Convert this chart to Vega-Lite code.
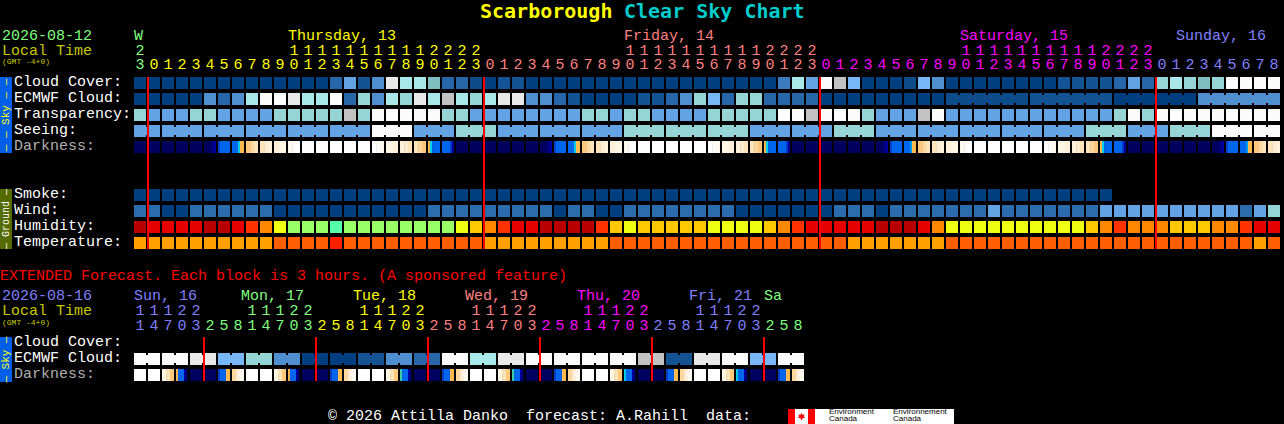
{"$schema":"https://vega.github.io/schema/vega-lite/v6.json","width":1284,"height":424,"padding":0,"autosize":{"type":"none"},"background":"#000000",
"config":{"view":{"stroke":null},"axis":{"disable":true},"text":{"font":"Liberation Mono","fontSize":15}},
"resolve":{"scale":{"x":"independent","y":"independent"}},
"encoding":{"color":{"field":"tone","type":"nominal","legend":null,"scale":{
"domain":["a","a1","b","c","d","e","f","g","h","i","j","k","l","w","v","m","hd","hr","ho","hn","ha","hy","hg","hm","t1","t2","t3","n","n2","deep","az0","az","az2","cy","tq","g0","g1","g2","g3","g4","g5","g6","g7","g8","tg","ty","ts","tm","tb","local","lw","lg","red","cyan","sky","ground","flag","ink"],
"range":["#003f7f","#0d4b8b","#135393","#2767a7","#3b7bbb","#4f8fcf","#63a3e3","#77b7f7","#7fbfbf","#95d5d5","#a8e8e8","#e9e9e9","#c2c2c2","#fbfbfb","#ffffff","#2c6cac","#b80000","#e60000","#ff3300","#ff8800","#ffc800","#eeff11","#99ff66","#55ffaa","#ffa000","#ff5f00","#ff2000","#00005f","#00006f","#0000a0","#0040d0","#0066ee","#00a0f0","#00d0e8","#40d0a0","#ffb84d","#ffc87a","#ffd89c","#ffe4ba","#ffecce","#fff1dc","#fff5e6","#fff9f0","#fffcf8","#80ff80","#ffff00","#ff8080","#ff00ff","#8080ff","#c8c800","#ffffff","#b0b0b0","#ff0000","#00cccc","#005ee8","#556b00","#ff0000","#000000"]}}},
"datasets":{
"title":[{"text":"Scarborough","tone":"ty"},{"text":"Clear Sky Chart","tone":"cyan"}],
"headTop":[{"line":"day","text":"2026-08-12","tone":"tg"},{"line":"tens","text":"Local Time","tone":"local"}],
"headExt":[{"line":"day","text":"2026-08-16","tone":"tb"},{"line":"tens","text":"Local Time","tone":"local"}],
"gmt":[{"text":"(GMT -4+0)","tone":"local"}],
"labelsTop":[{"row":"cloud","text":"Cloud Cover:","tone":"lw"},{"row":"ecmwf","text":"ECMWF Cloud:","tone":"lw"},{"row":"transparency","text":"Transparency:","tone":"lw"},{"row":"seeing","text":"Seeing:","tone":"lw"},{"row":"darkness","text":"Darkness:","tone":"lg"},{"row":"smoke","text":"Smoke:","tone":"lw"},{"row":"wind","text":"Wind:","tone":"lw"},{"row":"humidity","text":"Humidity:","tone":"lw"},{"row":"temperature","text":"Temperature:","tone":"lw"}],
"labelsExt":[{"row":"cloud","text":"Cloud Cover:","tone":"lw"},{"row":"ecmwf","text":"ECMWF Cloud:","tone":"lw"},{"row":"darkness","text":"Darkness:","tone":"lg"}],
"daysTop":[{"block":0,"text":"W","tone":"tg"},{"block":11,"text":"Thursday, 13","tone":"ty"},{"block":35,"text":"Friday, 14","tone":"ts"},{"block":59,"text":"Saturday, 15","tone":"tm"}],
"sundayTop":[{"block":74,"text":"Sunday, 16","tone":"tb"}],
"daysExt":[{"block":8,"text":"Mon, 17","tone":"tg"},{"block":16,"text":"Tue, 18","tone":"ty"},{"block":24,"text":"Wed, 19","tone":"ts"},{"block":32,"text":"Thu, 20","tone":"tm"},{"block":40,"text":"Fri, 21","tone":"tb"}],
"daysExt2":[{"block":0,"text":"Sun, 16","tone":"tb"},{"block":45,"text":"Sa","tone":"tg"}],
"digitsTop":[{"block":0,"tens":"2","ones":"3","tone":"tg"},
{"block":1,"tens":"","ones":"0","tone":"ty"},{"block":2,"tens":"","ones":"1","tone":"ty"},{"block":3,"tens":"","ones":"2","tone":"ty"},{"block":4,"tens":"","ones":"3","tone":"ty"},{"block":5,"tens":"","ones":"4","tone":"ty"},{"block":6,"tens":"","ones":"5","tone":"ty"},{"block":7,"tens":"","ones":"6","tone":"ty"},{"block":8,"tens":"","ones":"7","tone":"ty"},{"block":9,"tens":"","ones":"8","tone":"ty"},{"block":10,"tens":"","ones":"9","tone":"ty"},{"block":11,"tens":"1","ones":"0","tone":"ty"},{"block":12,"tens":"1","ones":"1","tone":"ty"},{"block":13,"tens":"1","ones":"2","tone":"ty"},{"block":14,"tens":"1","ones":"3","tone":"ty"},{"block":15,"tens":"1","ones":"4","tone":"ty"},{"block":16,"tens":"1","ones":"5","tone":"ty"},{"block":17,"tens":"1","ones":"6","tone":"ty"},{"block":18,"tens":"1","ones":"7","tone":"ty"},{"block":19,"tens":"1","ones":"8","tone":"ty"},{"block":20,"tens":"1","ones":"9","tone":"ty"},{"block":21,"tens":"2","ones":"0","tone":"ty"},{"block":22,"tens":"2","ones":"1","tone":"ty"},{"block":23,"tens":"2","ones":"2","tone":"ty"},{"block":24,"tens":"2","ones":"3","tone":"ty"},
{"block":25,"tens":"","ones":"0","tone":"ts"},{"block":26,"tens":"","ones":"1","tone":"ts"},{"block":27,"tens":"","ones":"2","tone":"ts"},{"block":28,"tens":"","ones":"3","tone":"ts"},{"block":29,"tens":"","ones":"4","tone":"ts"},{"block":30,"tens":"","ones":"5","tone":"ts"},{"block":31,"tens":"","ones":"6","tone":"ts"},{"block":32,"tens":"","ones":"7","tone":"ts"},{"block":33,"tens":"","ones":"8","tone":"ts"},{"block":34,"tens":"","ones":"9","tone":"ts"},{"block":35,"tens":"1","ones":"0","tone":"ts"},{"block":36,"tens":"1","ones":"1","tone":"ts"},{"block":37,"tens":"1","ones":"2","tone":"ts"},{"block":38,"tens":"1","ones":"3","tone":"ts"},{"block":39,"tens":"1","ones":"4","tone":"ts"},{"block":40,"tens":"1","ones":"5","tone":"ts"},{"block":41,"tens":"1","ones":"6","tone":"ts"},{"block":42,"tens":"1","ones":"7","tone":"ts"},{"block":43,"tens":"1","ones":"8","tone":"ts"},{"block":44,"tens":"1","ones":"9","tone":"ts"},{"block":45,"tens":"2","ones":"0","tone":"ts"},{"block":46,"tens":"2","ones":"1","tone":"ts"},{"block":47,"tens":"2","ones":"2","tone":"ts"},{"block":48,"tens":"2","ones":"3","tone":"ts"},
{"block":49,"tens":"","ones":"0","tone":"tm"},{"block":50,"tens":"","ones":"1","tone":"tm"},{"block":51,"tens":"","ones":"2","tone":"tm"},{"block":52,"tens":"","ones":"3","tone":"tm"},{"block":53,"tens":"","ones":"4","tone":"tm"},{"block":54,"tens":"","ones":"5","tone":"tm"},{"block":55,"tens":"","ones":"6","tone":"tm"},{"block":56,"tens":"","ones":"7","tone":"tm"},{"block":57,"tens":"","ones":"8","tone":"tm"},{"block":58,"tens":"","ones":"9","tone":"tm"},{"block":59,"tens":"1","ones":"0","tone":"tm"},{"block":60,"tens":"1","ones":"1","tone":"tm"},{"block":61,"tens":"1","ones":"2","tone":"tm"},{"block":62,"tens":"1","ones":"3","tone":"tm"},{"block":63,"tens":"1","ones":"4","tone":"tm"},{"block":64,"tens":"1","ones":"5","tone":"tm"},{"block":65,"tens":"1","ones":"6","tone":"tm"},{"block":66,"tens":"1","ones":"7","tone":"tm"},{"block":67,"tens":"1","ones":"8","tone":"tm"},{"block":68,"tens":"1","ones":"9","tone":"tm"},{"block":69,"tens":"2","ones":"0","tone":"tm"},{"block":70,"tens":"2","ones":"1","tone":"tm"},{"block":71,"tens":"2","ones":"2","tone":"tm"},{"block":72,"tens":"2","ones":"3","tone":"tm"},
{"block":73,"tens":"","ones":"0","tone":"tb"},{"block":74,"tens":"","ones":"1","tone":"tb"},{"block":75,"tens":"","ones":"2","tone":"tb"},{"block":76,"tens":"","ones":"3","tone":"tb"},{"block":77,"tens":"","ones":"4","tone":"tb"},{"block":78,"tens":"","ones":"5","tone":"tb"},{"block":79,"tens":"","ones":"6","tone":"tb"},{"block":80,"tens":"","ones":"7","tone":"tb"},{"block":81,"tens":"","ones":"8","tone":"tb"}],
"digitsExt":[{"block":0,"tens":"1","ones":"1","tone":"tb"},{"block":1,"tens":"1","ones":"4","tone":"tb"},{"block":2,"tens":"1","ones":"7","tone":"tb"},{"block":3,"tens":"2","ones":"0","tone":"tb"},{"block":4,"tens":"2","ones":"3","tone":"tb"},
{"block":5,"tens":"","ones":"2","tone":"tg"},{"block":6,"tens":"","ones":"5","tone":"tg"},{"block":7,"tens":"","ones":"8","tone":"tg"},{"block":8,"tens":"1","ones":"1","tone":"tg"},{"block":9,"tens":"1","ones":"4","tone":"tg"},{"block":10,"tens":"1","ones":"7","tone":"tg"},{"block":11,"tens":"2","ones":"0","tone":"tg"},{"block":12,"tens":"2","ones":"3","tone":"tg"},
{"block":13,"tens":"","ones":"2","tone":"ty"},{"block":14,"tens":"","ones":"5","tone":"ty"},{"block":15,"tens":"","ones":"8","tone":"ty"},{"block":16,"tens":"1","ones":"1","tone":"ty"},{"block":17,"tens":"1","ones":"4","tone":"ty"},{"block":18,"tens":"1","ones":"7","tone":"ty"},{"block":19,"tens":"2","ones":"0","tone":"ty"},{"block":20,"tens":"2","ones":"3","tone":"ty"},
{"block":21,"tens":"","ones":"2","tone":"ts"},{"block":22,"tens":"","ones":"5","tone":"ts"},{"block":23,"tens":"","ones":"8","tone":"ts"},{"block":24,"tens":"1","ones":"1","tone":"ts"},{"block":25,"tens":"1","ones":"4","tone":"ts"},{"block":26,"tens":"1","ones":"7","tone":"ts"},{"block":27,"tens":"2","ones":"0","tone":"ts"},{"block":28,"tens":"2","ones":"3","tone":"ts"},
{"block":29,"tens":"","ones":"2","tone":"tm"},{"block":30,"tens":"","ones":"5","tone":"tm"},{"block":31,"tens":"","ones":"8","tone":"tm"},{"block":32,"tens":"1","ones":"1","tone":"tm"},{"block":33,"tens":"1","ones":"4","tone":"tm"},{"block":34,"tens":"1","ones":"7","tone":"tm"},{"block":35,"tens":"2","ones":"0","tone":"tm"},{"block":36,"tens":"2","ones":"3","tone":"tm"},
{"block":37,"tens":"","ones":"2","tone":"tb"},{"block":38,"tens":"","ones":"5","tone":"tb"},{"block":39,"tens":"","ones":"8","tone":"tb"},{"block":40,"tens":"1","ones":"1","tone":"tb"},{"block":41,"tens":"1","ones":"4","tone":"tb"},{"block":42,"tens":"1","ones":"7","tone":"tb"},{"block":43,"tens":"2","ones":"0","tone":"tb"},{"block":44,"tens":"2","ones":"3","tone":"tb"},
{"block":45,"tens":"","ones":"2","tone":"tg"},{"block":46,"tens":"","ones":"5","tone":"tg"},{"block":47,"tens":"","ones":"8","tone":"tg"}],
"blocksTop":[
{"row":"cloud","block":0,"tone":"a"},{"row":"cloud","block":1,"tone":"a"},{"row":"cloud","block":2,"tone":"a"},{"row":"cloud","block":3,"tone":"a"},{"row":"cloud","block":4,"tone":"a"},{"row":"cloud","block":5,"tone":"a"},{"row":"cloud","block":6,"tone":"a"},{"row":"cloud","block":7,"tone":"a"},{"row":"cloud","block":8,"tone":"a"},{"row":"cloud","block":9,"tone":"a"},{"row":"cloud","block":10,"tone":"a"},{"row":"cloud","block":11,"tone":"a"},{"row":"cloud","block":12,"tone":"a"},{"row":"cloud","block":13,"tone":"a"},{"row":"cloud","block":14,"tone":"c"},{"row":"cloud","block":15,"tone":"f"},{"row":"cloud","block":16,"tone":"b"},{"row":"cloud","block":17,"tone":"e"},{"row":"cloud","block":18,"tone":"k"},{"row":"cloud","block":19,"tone":"j"},{"row":"cloud","block":20,"tone":"j"},{"row":"cloud","block":21,"tone":"h"},{"row":"cloud","block":22,"tone":"c"},{"row":"cloud","block":23,"tone":"c"},{"row":"cloud","block":24,"tone":"a1"},{"row":"cloud","block":25,"tone":"a"},{"row":"cloud","block":26,"tone":"b"},{"row":"cloud","block":27,"tone":"b"},{"row":"cloud","block":28,"tone":"a"},{"row":"cloud","block":29,"tone":"a"},{"row":"cloud","block":30,"tone":"a"},{"row":"cloud","block":31,"tone":"a"},{"row":"cloud","block":32,"tone":"a"},{"row":"cloud","block":33,"tone":"a"},{"row":"cloud","block":34,"tone":"a"},{"row":"cloud","block":35,"tone":"a"},{"row":"cloud","block":36,"tone":"a"},{"row":"cloud","block":37,"tone":"a"},{"row":"cloud","block":38,"tone":"a"},{"row":"cloud","block":39,"tone":"a"},{"row":"cloud","block":40,"tone":"a"},{"row":"cloud","block":41,"tone":"a"},{"row":"cloud","block":42,"tone":"a"},{"row":"cloud","block":43,"tone":"a"},{"row":"cloud","block":44,"tone":"a"},{"row":"cloud","block":45,"tone":"a"},{"row":"cloud","block":46,"tone":"d"},{"row":"cloud","block":47,"tone":"j"},{"row":"cloud","block":48,"tone":"f"},{"row":"cloud","block":49,"tone":"w"},{"row":"cloud","block":50,"tone":"l"},{"row":"cloud","block":51,"tone":"g"},{"row":"cloud","block":52,"tone":"a"},{"row":"cloud","block":53,"tone":"a"},{"row":"cloud","block":54,"tone":"a"},{"row":"cloud","block":55,"tone":"a1"},{"row":"cloud","block":56,"tone":"g"},{"row":"cloud","block":57,"tone":"e"},{"row":"cloud","block":58,"tone":"a"},{"row":"cloud","block":59,"tone":"a"},{"row":"cloud","block":60,"tone":"a"},{"row":"cloud","block":61,"tone":"a"},{"row":"cloud","block":62,"tone":"a"},{"row":"cloud","block":63,"tone":"a"},{"row":"cloud","block":64,"tone":"a"},{"row":"cloud","block":65,"tone":"a"},{"row":"cloud","block":66,"tone":"b"},{"row":"cloud","block":67,"tone":"b"},{"row":"cloud","block":68,"tone":"b"},{"row":"cloud","block":69,"tone":"b"},{"row":"cloud","block":70,"tone":"c"},{"row":"cloud","block":71,"tone":"f"},{"row":"cloud","block":72,"tone":"c"},{"row":"cloud","block":73,"tone":"i"},{"row":"cloud","block":74,"tone":"j"},{"row":"cloud","block":75,"tone":"i"},{"row":"cloud","block":76,"tone":"h"},{"row":"cloud","block":77,"tone":"i"},{"row":"cloud","block":78,"tone":"w"},{"row":"cloud","block":79,"tone":"w"},{"row":"cloud","block":80,"tone":"w"},{"row":"cloud","block":81,"tone":"w"},
{"row":"ecmwf","block":0,"tone":"a"},{"row":"ecmwf","block":1,"tone":"a"},{"row":"ecmwf","block":2,"tone":"a"},{"row":"ecmwf","block":3,"tone":"a"},{"row":"ecmwf","block":4,"tone":"a"},{"row":"ecmwf","block":5,"tone":"e"},{"row":"ecmwf","block":6,"tone":"c"},{"row":"ecmwf","block":7,"tone":"e"},{"row":"ecmwf","block":8,"tone":"j"},{"row":"ecmwf","block":9,"tone":"w"},{"row":"ecmwf","block":10,"tone":"w"},{"row":"ecmwf","block":11,"tone":"k"},{"row":"ecmwf","block":12,"tone":"j"},{"row":"ecmwf","block":13,"tone":"j"},{"row":"ecmwf","block":14,"tone":"w"},{"row":"ecmwf","block":15,"tone":"c"},{"row":"ecmwf","block":16,"tone":"i"},{"row":"ecmwf","block":17,"tone":"e"},{"row":"ecmwf","block":18,"tone":"j"},{"row":"ecmwf","block":19,"tone":"i"},{"row":"ecmwf","block":20,"tone":"k"},{"row":"ecmwf","block":21,"tone":"j"},{"row":"ecmwf","block":22,"tone":"l"},{"row":"ecmwf","block":23,"tone":"j"},{"row":"ecmwf","block":24,"tone":"i"},{"row":"ecmwf","block":25,"tone":"j"},{"row":"ecmwf","block":26,"tone":"k"},{"row":"ecmwf","block":27,"tone":"k"},{"row":"ecmwf","block":28,"tone":"e"},{"row":"ecmwf","block":29,"tone":"e"},{"row":"ecmwf","block":30,"tone":"c"},{"row":"ecmwf","block":31,"tone":"b"},{"row":"ecmwf","block":32,"tone":"a"},{"row":"ecmwf","block":33,"tone":"a"},{"row":"ecmwf","block":34,"tone":"a"},{"row":"ecmwf","block":35,"tone":"a"},{"row":"ecmwf","block":36,"tone":"b"},{"row":"ecmwf","block":37,"tone":"b"},{"row":"ecmwf","block":38,"tone":"c"},{"row":"ecmwf","block":39,"tone":"e"},{"row":"ecmwf","block":40,"tone":"i"},{"row":"ecmwf","block":41,"tone":"g"},{"row":"ecmwf","block":42,"tone":"c"},{"row":"ecmwf","block":43,"tone":"i"},{"row":"ecmwf","block":44,"tone":"i"},{"row":"ecmwf","block":45,"tone":"c"},{"row":"ecmwf","block":46,"tone":"c"},{"row":"ecmwf","block":47,"tone":"c"},{"row":"ecmwf","block":48,"tone":"c"},{"row":"ecmwf","block":49,"tone":"a"},{"row":"ecmwf","block":50,"tone":"a"},{"row":"ecmwf","block":51,"tone":"a"},{"row":"ecmwf","block":52,"tone":"a"},{"row":"ecmwf","block":53,"tone":"a"},{"row":"ecmwf","block":54,"tone":"a"},{"row":"ecmwf","block":55,"tone":"a"},{"row":"ecmwf","block":56,"tone":"a"},{"row":"ecmwf","block":57,"tone":"a"},{"row":"ecmwf","block":58,"tone":"a1"},{"row":"ecmwf","block":59,"tone":"a1"},{"row":"ecmwf","block":60,"tone":"a1"},{"row":"ecmwf","block":61,"tone":"a1"},{"row":"ecmwf","block":62,"tone":"a1"},{"row":"ecmwf","block":63,"tone":"a1"},{"row":"ecmwf","block":64,"tone":"b"},{"row":"ecmwf","block":65,"tone":"b"},{"row":"ecmwf","block":66,"tone":"b"},{"row":"ecmwf","block":67,"tone":"b"},{"row":"ecmwf","block":68,"tone":"b"},{"row":"ecmwf","block":69,"tone":"b"},{"row":"ecmwf","block":70,"tone":"a"},{"row":"ecmwf","block":71,"tone":"a"},{"row":"ecmwf","block":72,"tone":"a"},{"row":"ecmwf","block":73,"tone":"a"},{"row":"ecmwf","block":74,"tone":"a"},{"row":"ecmwf","block":75,"tone":"a"},{"row":"ecmwf","block":76,"tone":"e"},{"row":"ecmwf","block":77,"tone":"e"},{"row":"ecmwf","block":78,"tone":"e"},{"row":"ecmwf","block":79,"tone":"e"},{"row":"ecmwf","block":80,"tone":"e"},{"row":"ecmwf","block":81,"tone":"e"},
{"row":"transparency","block":0,"tone":"i"},{"row":"transparency","block":1,"tone":"f"},{"row":"transparency","block":2,"tone":"f"},{"row":"transparency","block":3,"tone":"f"},{"row":"transparency","block":4,"tone":"i"},{"row":"transparency","block":5,"tone":"i"},{"row":"transparency","block":6,"tone":"f"},{"row":"transparency","block":7,"tone":"f"},{"row":"transparency","block":8,"tone":"f"},{"row":"transparency","block":9,"tone":"f"},{"row":"transparency","block":10,"tone":"i"},{"row":"transparency","block":11,"tone":"i"},{"row":"transparency","block":12,"tone":"i"},{"row":"transparency","block":13,"tone":"i"},{"row":"transparency","block":14,"tone":"i"},{"row":"transparency","block":15,"tone":"l"},{"row":"transparency","block":16,"tone":"i"},{"row":"transparency","block":17,"tone":"w"},{"row":"transparency","block":18,"tone":"w"},{"row":"transparency","block":19,"tone":"w"},{"row":"transparency","block":20,"tone":"w"},{"row":"transparency","block":21,"tone":"w"},{"row":"transparency","block":22,"tone":"i"},{"row":"transparency","block":23,"tone":"i"},{"row":"transparency","block":24,"tone":"f"},{"row":"transparency","block":25,"tone":"f"},{"row":"transparency","block":26,"tone":"f"},{"row":"transparency","block":27,"tone":"f"},{"row":"transparency","block":28,"tone":"f"},{"row":"transparency","block":29,"tone":"f"},{"row":"transparency","block":30,"tone":"f"},{"row":"transparency","block":31,"tone":"f"},{"row":"transparency","block":32,"tone":"i"},{"row":"transparency","block":33,"tone":"i"},{"row":"transparency","block":34,"tone":"f"},{"row":"transparency","block":35,"tone":"i"},{"row":"transparency","block":36,"tone":"i"},{"row":"transparency","block":37,"tone":"f"},{"row":"transparency","block":38,"tone":"f"},{"row":"transparency","block":39,"tone":"f"},{"row":"transparency","block":40,"tone":"f"},{"row":"transparency","block":41,"tone":"i"},{"row":"transparency","block":42,"tone":"i"},{"row":"transparency","block":43,"tone":"i"},{"row":"transparency","block":44,"tone":"i"},{"row":"transparency","block":45,"tone":"i"},{"row":"transparency","block":46,"tone":"w"},{"row":"transparency","block":47,"tone":"w"},{"row":"transparency","block":48,"tone":"l"},{"row":"transparency","block":49,"tone":"w"},{"row":"transparency","block":50,"tone":"w"},{"row":"transparency","block":51,"tone":"w"},{"row":"transparency","block":52,"tone":"i"},{"row":"transparency","block":53,"tone":"f"},{"row":"transparency","block":54,"tone":"f"},{"row":"transparency","block":55,"tone":"f"},{"row":"transparency","block":56,"tone":"l"},{"row":"transparency","block":57,"tone":"w"},{"row":"transparency","block":58,"tone":"f"},{"row":"transparency","block":59,"tone":"f"},{"row":"transparency","block":60,"tone":"f"},{"row":"transparency","block":61,"tone":"f"},{"row":"transparency","block":62,"tone":"f"},{"row":"transparency","block":63,"tone":"f"},{"row":"transparency","block":64,"tone":"f"},{"row":"transparency","block":65,"tone":"f"},{"row":"transparency","block":66,"tone":"f"},{"row":"transparency","block":67,"tone":"f"},{"row":"transparency","block":68,"tone":"f"},{"row":"transparency","block":69,"tone":"f"},{"row":"transparency","block":70,"tone":"i"},{"row":"transparency","block":71,"tone":"w"},{"row":"transparency","block":72,"tone":"i"},{"row":"transparency","block":73,"tone":"w"},{"row":"transparency","block":74,"tone":"w"},{"row":"transparency","block":75,"tone":"w"},{"row":"transparency","block":76,"tone":"w"},{"row":"transparency","block":77,"tone":"w"},{"row":"transparency","block":78,"tone":"w"},{"row":"transparency","block":79,"tone":"w"},{"row":"transparency","block":80,"tone":"w"},{"row":"transparency","block":81,"tone":"w"},
{"row":"seeing","block":0,"tone":"f"},{"row":"seeing","block":1,"tone":"f"},{"row":"seeing","block":2,"tone":"f"},{"row":"seeing","block":3,"tone":"f"},{"row":"seeing","block":4,"tone":"f"},{"row":"seeing","block":5,"tone":"f"},{"row":"seeing","block":6,"tone":"f"},{"row":"seeing","block":7,"tone":"f"},{"row":"seeing","block":8,"tone":"f"},{"row":"seeing","block":9,"tone":"f"},{"row":"seeing","block":10,"tone":"f"},{"row":"seeing","block":11,"tone":"f"},{"row":"seeing","block":12,"tone":"f"},{"row":"seeing","block":13,"tone":"f"},{"row":"seeing","block":14,"tone":"f"},{"row":"seeing","block":15,"tone":"f"},{"row":"seeing","block":16,"tone":"f"},{"row":"seeing","block":17,"tone":"w"},{"row":"seeing","block":18,"tone":"w"},{"row":"seeing","block":19,"tone":"w"},{"row":"seeing","block":20,"tone":"f"},{"row":"seeing","block":21,"tone":"f"},{"row":"seeing","block":22,"tone":"f"},{"row":"seeing","block":23,"tone":"i"},{"row":"seeing","block":24,"tone":"i"},{"row":"seeing","block":25,"tone":"i"},{"row":"seeing","block":26,"tone":"f"},{"row":"seeing","block":27,"tone":"f"},{"row":"seeing","block":28,"tone":"f"},{"row":"seeing","block":29,"tone":"f"},{"row":"seeing","block":30,"tone":"f"},{"row":"seeing","block":31,"tone":"f"},{"row":"seeing","block":32,"tone":"f"},{"row":"seeing","block":33,"tone":"f"},{"row":"seeing","block":34,"tone":"f"},{"row":"seeing","block":35,"tone":"i"},{"row":"seeing","block":36,"tone":"i"},{"row":"seeing","block":37,"tone":"i"},{"row":"seeing","block":38,"tone":"i"},{"row":"seeing","block":39,"tone":"i"},{"row":"seeing","block":40,"tone":"i"},{"row":"seeing","block":41,"tone":"i"},{"row":"seeing","block":42,"tone":"i"},{"row":"seeing","block":43,"tone":"i"},{"row":"seeing","block":44,"tone":"f"},{"row":"seeing","block":45,"tone":"f"},{"row":"seeing","block":46,"tone":"f"},{"row":"seeing","block":47,"tone":"f"},{"row":"seeing","block":48,"tone":"f"},{"row":"seeing","block":49,"tone":"f"},{"row":"seeing","block":50,"tone":"i"},{"row":"seeing","block":51,"tone":"i"},{"row":"seeing","block":52,"tone":"i"},{"row":"seeing","block":53,"tone":"f"},{"row":"seeing","block":54,"tone":"f"},{"row":"seeing","block":55,"tone":"f"},{"row":"seeing","block":56,"tone":"f"},{"row":"seeing","block":57,"tone":"f"},{"row":"seeing","block":58,"tone":"f"},{"row":"seeing","block":59,"tone":"f"},{"row":"seeing","block":60,"tone":"f"},{"row":"seeing","block":61,"tone":"f"},{"row":"seeing","block":62,"tone":"f"},{"row":"seeing","block":63,"tone":"f"},{"row":"seeing","block":64,"tone":"f"},{"row":"seeing","block":65,"tone":"f"},{"row":"seeing","block":66,"tone":"f"},{"row":"seeing","block":67,"tone":"f"},{"row":"seeing","block":68,"tone":"i"},{"row":"seeing","block":69,"tone":"i"},{"row":"seeing","block":70,"tone":"i"},{"row":"seeing","block":71,"tone":"f"},{"row":"seeing","block":72,"tone":"f"},{"row":"seeing","block":73,"tone":"f"},{"row":"seeing","block":74,"tone":"i"},{"row":"seeing","block":75,"tone":"i"},{"row":"seeing","block":76,"tone":"i"},{"row":"seeing","block":77,"tone":"w"},{"row":"seeing","block":78,"tone":"w"},{"row":"seeing","block":79,"tone":"w"},{"row":"seeing","block":80,"tone":"w"},{"row":"seeing","block":81,"tone":"w"},
{"row":"smoke","block":0,"tone":"a"},{"row":"smoke","block":1,"tone":"a"},{"row":"smoke","block":2,"tone":"a"},{"row":"smoke","block":3,"tone":"a"},{"row":"smoke","block":4,"tone":"a"},{"row":"smoke","block":5,"tone":"a"},{"row":"smoke","block":6,"tone":"a"},{"row":"smoke","block":7,"tone":"a"},{"row":"smoke","block":8,"tone":"a"},{"row":"smoke","block":9,"tone":"a"},{"row":"smoke","block":10,"tone":"a"},{"row":"smoke","block":11,"tone":"a"},{"row":"smoke","block":12,"tone":"a"},{"row":"smoke","block":13,"tone":"a"},{"row":"smoke","block":14,"tone":"a"},{"row":"smoke","block":15,"tone":"a"},{"row":"smoke","block":16,"tone":"a"},{"row":"smoke","block":17,"tone":"a"},{"row":"smoke","block":18,"tone":"a"},{"row":"smoke","block":19,"tone":"a"},{"row":"smoke","block":20,"tone":"a"},{"row":"smoke","block":21,"tone":"a"},{"row":"smoke","block":22,"tone":"a"},{"row":"smoke","block":23,"tone":"a"},{"row":"smoke","block":24,"tone":"a"},{"row":"smoke","block":25,"tone":"a"},{"row":"smoke","block":26,"tone":"a"},{"row":"smoke","block":27,"tone":"a"},{"row":"smoke","block":28,"tone":"a"},{"row":"smoke","block":29,"tone":"a"},{"row":"smoke","block":30,"tone":"a"},{"row":"smoke","block":31,"tone":"a"},{"row":"smoke","block":32,"tone":"a"},{"row":"smoke","block":33,"tone":"a"},{"row":"smoke","block":34,"tone":"a"},{"row":"smoke","block":35,"tone":"a"},{"row":"smoke","block":36,"tone":"a"},{"row":"smoke","block":37,"tone":"a"},{"row":"smoke","block":38,"tone":"a"},{"row":"smoke","block":39,"tone":"a"},{"row":"smoke","block":40,"tone":"a"},{"row":"smoke","block":41,"tone":"a"},{"row":"smoke","block":42,"tone":"a"},{"row":"smoke","block":43,"tone":"a"},{"row":"smoke","block":44,"tone":"a"},{"row":"smoke","block":45,"tone":"a"},{"row":"smoke","block":46,"tone":"a"},{"row":"smoke","block":47,"tone":"a"},{"row":"smoke","block":48,"tone":"a"},{"row":"smoke","block":49,"tone":"a"},{"row":"smoke","block":50,"tone":"a"},{"row":"smoke","block":51,"tone":"a"},{"row":"smoke","block":52,"tone":"a"},{"row":"smoke","block":53,"tone":"a"},{"row":"smoke","block":54,"tone":"a"},{"row":"smoke","block":55,"tone":"a"},{"row":"smoke","block":56,"tone":"a"},{"row":"smoke","block":57,"tone":"a"},{"row":"smoke","block":58,"tone":"a"},{"row":"smoke","block":59,"tone":"a"},{"row":"smoke","block":60,"tone":"a"},{"row":"smoke","block":61,"tone":"a"},{"row":"smoke","block":62,"tone":"a"},{"row":"smoke","block":63,"tone":"a"},{"row":"smoke","block":64,"tone":"a"},{"row":"smoke","block":65,"tone":"a"},{"row":"smoke","block":66,"tone":"a"},{"row":"smoke","block":67,"tone":"a"},{"row":"smoke","block":68,"tone":"a"},{"row":"smoke","block":69,"tone":"a"},
{"row":"wind","block":0,"tone":"m"},{"row":"wind","block":1,"tone":"m"},{"row":"wind","block":2,"tone":"a"},{"row":"wind","block":3,"tone":"a"},{"row":"wind","block":4,"tone":"m"},{"row":"wind","block":5,"tone":"m"},{"row":"wind","block":6,"tone":"m"},{"row":"wind","block":7,"tone":"m"},{"row":"wind","block":8,"tone":"m"},{"row":"wind","block":9,"tone":"m"},{"row":"wind","block":10,"tone":"a"},{"row":"wind","block":11,"tone":"a"},{"row":"wind","block":12,"tone":"a"},{"row":"wind","block":13,"tone":"a"},{"row":"wind","block":14,"tone":"a"},{"row":"wind","block":15,"tone":"a"},{"row":"wind","block":16,"tone":"a"},{"row":"wind","block":17,"tone":"a"},{"row":"wind","block":18,"tone":"a"},{"row":"wind","block":19,"tone":"a"},{"row":"wind","block":20,"tone":"a"},{"row":"wind","block":21,"tone":"m"},{"row":"wind","block":22,"tone":"m"},{"row":"wind","block":23,"tone":"m"},{"row":"wind","block":24,"tone":"m"},{"row":"wind","block":25,"tone":"m"},{"row":"wind","block":26,"tone":"m"},{"row":"wind","block":27,"tone":"m"},{"row":"wind","block":28,"tone":"m"},{"row":"wind","block":29,"tone":"m"},{"row":"wind","block":30,"tone":"a"},{"row":"wind","block":31,"tone":"m"},{"row":"wind","block":32,"tone":"m"},{"row":"wind","block":33,"tone":"a"},{"row":"wind","block":34,"tone":"a"},{"row":"wind","block":35,"tone":"m"},{"row":"wind","block":36,"tone":"m"},{"row":"wind","block":37,"tone":"m"},{"row":"wind","block":38,"tone":"m"},{"row":"wind","block":39,"tone":"m"},{"row":"wind","block":40,"tone":"m"},{"row":"wind","block":41,"tone":"m"},{"row":"wind","block":42,"tone":"m"},{"row":"wind","block":43,"tone":"a"},{"row":"wind","block":44,"tone":"a"},{"row":"wind","block":45,"tone":"a"},{"row":"wind","block":46,"tone":"a"},{"row":"wind","block":47,"tone":"a"},{"row":"wind","block":48,"tone":"a"},{"row":"wind","block":49,"tone":"a"},{"row":"wind","block":50,"tone":"m"},{"row":"wind","block":51,"tone":"m"},{"row":"wind","block":52,"tone":"m"},{"row":"wind","block":53,"tone":"a"},{"row":"wind","block":54,"tone":"m"},{"row":"wind","block":55,"tone":"m"},{"row":"wind","block":56,"tone":"m"},{"row":"wind","block":57,"tone":"m"},{"row":"wind","block":58,"tone":"m"},{"row":"wind","block":59,"tone":"m"},{"row":"wind","block":60,"tone":"m"},{"row":"wind","block":61,"tone":"f"},{"row":"wind","block":62,"tone":"m"},{"row":"wind","block":63,"tone":"m"},{"row":"wind","block":64,"tone":"m"},{"row":"wind","block":65,"tone":"m"},{"row":"wind","block":66,"tone":"m"},{"row":"wind","block":67,"tone":"m"},{"row":"wind","block":68,"tone":"m"},{"row":"wind","block":69,"tone":"f"},{"row":"wind","block":70,"tone":"f"},{"row":"wind","block":71,"tone":"f"},{"row":"wind","block":72,"tone":"f"},{"row":"wind","block":73,"tone":"f"},{"row":"wind","block":74,"tone":"f"},{"row":"wind","block":75,"tone":"f"},{"row":"wind","block":76,"tone":"f"},{"row":"wind","block":77,"tone":"f"},{"row":"wind","block":78,"tone":"f"},{"row":"wind","block":79,"tone":"m"},{"row":"wind","block":80,"tone":"f"},{"row":"wind","block":81,"tone":"i"},
{"row":"humidity","block":0,"tone":"hd"},{"row":"humidity","block":1,"tone":"hr"},{"row":"humidity","block":2,"tone":"hr"},{"row":"humidity","block":3,"tone":"hr"},{"row":"humidity","block":4,"tone":"hr"},{"row":"humidity","block":5,"tone":"hd"},{"row":"humidity","block":6,"tone":"hd"},{"row":"humidity","block":7,"tone":"hr"},{"row":"humidity","block":8,"tone":"ho"},{"row":"humidity","block":9,"tone":"hn"},{"row":"humidity","block":10,"tone":"hy"},{"row":"humidity","block":11,"tone":"hg"},{"row":"humidity","block":12,"tone":"hg"},{"row":"humidity","block":13,"tone":"hg"},{"row":"humidity","block":14,"tone":"hm"},{"row":"humidity","block":15,"tone":"hg"},{"row":"humidity","block":16,"tone":"hg"},{"row":"humidity","block":17,"tone":"hg"},{"row":"humidity","block":18,"tone":"hg"},{"row":"humidity","block":19,"tone":"hg"},{"row":"humidity","block":20,"tone":"hg"},{"row":"humidity","block":21,"tone":"hg"},{"row":"humidity","block":22,"tone":"hg"},{"row":"humidity","block":23,"tone":"hy"},{"row":"humidity","block":24,"tone":"ha"},{"row":"humidity","block":25,"tone":"hn"},{"row":"humidity","block":26,"tone":"ho"},{"row":"humidity","block":27,"tone":"hr"},{"row":"humidity","block":28,"tone":"hr"},{"row":"humidity","block":29,"tone":"hd"},{"row":"humidity","block":30,"tone":"hd"},{"row":"humidity","block":31,"tone":"hd"},{"row":"humidity","block":32,"tone":"hd"},{"row":"humidity","block":33,"tone":"ho"},{"row":"humidity","block":34,"tone":"ha"},{"row":"humidity","block":35,"tone":"hy"},{"row":"humidity","block":36,"tone":"ha"},{"row":"humidity","block":37,"tone":"ha"},{"row":"humidity","block":38,"tone":"ha"},{"row":"humidity","block":39,"tone":"ha"},{"row":"humidity","block":40,"tone":"ha"},{"row":"humidity","block":41,"tone":"hy"},{"row":"humidity","block":42,"tone":"hy"},{"row":"humidity","block":43,"tone":"hy"},{"row":"humidity","block":44,"tone":"hy"},{"row":"humidity","block":45,"tone":"ha"},{"row":"humidity","block":46,"tone":"hn"},{"row":"humidity","block":47,"tone":"ho"},{"row":"humidity","block":48,"tone":"hr"},{"row":"humidity","block":49,"tone":"hr"},{"row":"humidity","block":50,"tone":"hr"},{"row":"humidity","block":51,"tone":"hr"},{"row":"humidity","block":52,"tone":"hr"},{"row":"humidity","block":53,"tone":"hd"},{"row":"humidity","block":54,"tone":"hd"},{"row":"humidity","block":55,"tone":"hd"},{"row":"humidity","block":56,"tone":"hr"},{"row":"humidity","block":57,"tone":"hn"},{"row":"humidity","block":58,"tone":"hy"},{"row":"humidity","block":59,"tone":"hy"},{"row":"humidity","block":60,"tone":"hy"},{"row":"humidity","block":61,"tone":"hy"},{"row":"humidity","block":62,"tone":"hy"},{"row":"humidity","block":63,"tone":"hy"},{"row":"humidity","block":64,"tone":"hy"},{"row":"humidity","block":65,"tone":"hy"},{"row":"humidity","block":66,"tone":"hy"},{"row":"humidity","block":67,"tone":"hy"},{"row":"humidity","block":68,"tone":"ha"},{"row":"humidity","block":69,"tone":"hn"},{"row":"humidity","block":70,"tone":"ho"},{"row":"humidity","block":71,"tone":"hn"},{"row":"humidity","block":72,"tone":"hn"},{"row":"humidity","block":73,"tone":"hn"},{"row":"humidity","block":74,"tone":"ha"},{"row":"humidity","block":75,"tone":"ha"},{"row":"humidity","block":76,"tone":"ha"},{"row":"humidity","block":77,"tone":"hn"},{"row":"humidity","block":78,"tone":"hn"},{"row":"humidity","block":79,"tone":"ho"},{"row":"humidity","block":80,"tone":"hr"},{"row":"humidity","block":81,"tone":"hr"},
{"row":"temperature","block":0,"tone":"t1"},{"row":"temperature","block":1,"tone":"t1"},{"row":"temperature","block":2,"tone":"t1"},{"row":"temperature","block":3,"tone":"t1"},{"row":"temperature","block":4,"tone":"t1"},{"row":"temperature","block":5,"tone":"t1"},{"row":"temperature","block":6,"tone":"t1"},{"row":"temperature","block":7,"tone":"t1"},{"row":"temperature","block":8,"tone":"t1"},{"row":"temperature","block":9,"tone":"t1"},{"row":"temperature","block":10,"tone":"t2"},{"row":"temperature","block":11,"tone":"t2"},{"row":"temperature","block":12,"tone":"t2"},{"row":"temperature","block":13,"tone":"t2"},{"row":"temperature","block":14,"tone":"t3"},{"row":"temperature","block":15,"tone":"t2"},{"row":"temperature","block":16,"tone":"t2"},{"row":"temperature","block":17,"tone":"t2"},{"row":"temperature","block":18,"tone":"t2"},{"row":"temperature","block":19,"tone":"t2"},{"row":"temperature","block":20,"tone":"t2"},{"row":"temperature","block":21,"tone":"t2"},{"row":"temperature","block":22,"tone":"t2"},{"row":"temperature","block":23,"tone":"t2"},{"row":"temperature","block":24,"tone":"t2"},{"row":"temperature","block":25,"tone":"t1"},{"row":"temperature","block":26,"tone":"t1"},{"row":"temperature","block":27,"tone":"t1"},{"row":"temperature","block":28,"tone":"t1"},{"row":"temperature","block":29,"tone":"t1"},{"row":"temperature","block":30,"tone":"t1"},{"row":"temperature","block":31,"tone":"t1"},{"row":"temperature","block":32,"tone":"t1"},{"row":"temperature","block":33,"tone":"t1"},{"row":"temperature","block":34,"tone":"t2"},{"row":"temperature","block":35,"tone":"t2"},{"row":"temperature","block":36,"tone":"t2"},{"row":"temperature","block":37,"tone":"t2"},{"row":"temperature","block":38,"tone":"t2"},{"row":"temperature","block":39,"tone":"t2"},{"row":"temperature","block":40,"tone":"t2"},{"row":"temperature","block":41,"tone":"t2"},{"row":"temperature","block":42,"tone":"t2"},{"row":"temperature","block":43,"tone":"t2"},{"row":"temperature","block":44,"tone":"t2"},{"row":"temperature","block":45,"tone":"t2"},{"row":"temperature","block":46,"tone":"t2"},{"row":"temperature","block":47,"tone":"t2"},{"row":"temperature","block":48,"tone":"t2"},{"row":"temperature","block":49,"tone":"t2"},{"row":"temperature","block":50,"tone":"t2"},{"row":"temperature","block":51,"tone":"t1"},{"row":"temperature","block":52,"tone":"t1"},{"row":"temperature","block":53,"tone":"t1"},{"row":"temperature","block":54,"tone":"t1"},{"row":"temperature","block":55,"tone":"t1"},{"row":"temperature","block":56,"tone":"t1"},{"row":"temperature","block":57,"tone":"t1"},{"row":"temperature","block":58,"tone":"t2"},{"row":"temperature","block":59,"tone":"t2"},{"row":"temperature","block":60,"tone":"t2"},{"row":"temperature","block":61,"tone":"t2"},{"row":"temperature","block":62,"tone":"t2"},{"row":"temperature","block":63,"tone":"t2"},{"row":"temperature","block":64,"tone":"t2"},{"row":"temperature","block":65,"tone":"t2"},{"row":"temperature","block":66,"tone":"t2"},{"row":"temperature","block":67,"tone":"t2"},{"row":"temperature","block":68,"tone":"t2"},{"row":"temperature","block":69,"tone":"t2"},{"row":"temperature","block":70,"tone":"t2"},{"row":"temperature","block":71,"tone":"t2"},{"row":"temperature","block":72,"tone":"t2"},{"row":"temperature","block":73,"tone":"t2"},{"row":"temperature","block":74,"tone":"t2"},{"row":"temperature","block":75,"tone":"t2"},{"row":"temperature","block":76,"tone":"t2"},{"row":"temperature","block":77,"tone":"t2"},{"row":"temperature","block":78,"tone":"t2"},{"row":"temperature","block":79,"tone":"t2"},{"row":"temperature","block":80,"tone":"t1"},{"row":"temperature","block":81,"tone":"t2"}],
"bridgesTop":[{"row":"seeing","from":0,"to":1.857,"tone":"f"},{"row":"seeing","from":2,"to":4.857,"tone":"f"},{"row":"seeing","from":5,"to":7.857,"tone":"f"},{"row":"seeing","from":8,"to":10.857,"tone":"f"},{"row":"seeing","from":11,"to":13.857,"tone":"f"},{"row":"seeing","from":14,"to":16.857,"tone":"f"},{"row":"seeing","from":17,"to":19.857,"tone":"w"},{"row":"seeing","from":20,"to":22.857,"tone":"f"},{"row":"seeing","from":23,"to":25.857,"tone":"i"},{"row":"seeing","from":26,"to":28.857,"tone":"f"},{"row":"seeing","from":29,"to":31.857,"tone":"f"},{"row":"seeing","from":32,"to":34.857,"tone":"f"},{"row":"seeing","from":35,"to":37.857,"tone":"i"},{"row":"seeing","from":38,"to":40.857,"tone":"i"},{"row":"seeing","from":41,"to":43.857,"tone":"i"},{"row":"seeing","from":44,"to":46.857,"tone":"f"},{"row":"seeing","from":47,"to":49.857,"tone":"f"},{"row":"seeing","from":50,"to":52.857,"tone":"i"},{"row":"seeing","from":53,"to":55.857,"tone":"f"},{"row":"seeing","from":56,"to":58.857,"tone":"f"},{"row":"seeing","from":59,"to":61.857,"tone":"f"},{"row":"seeing","from":62,"to":64.857,"tone":"f"},{"row":"seeing","from":65,"to":67.857,"tone":"f"},{"row":"seeing","from":68,"to":70.857,"tone":"i"},{"row":"seeing","from":71,"to":73.857,"tone":"f"},{"row":"seeing","from":74,"to":76.857,"tone":"i"},{"row":"seeing","from":77,"to":79.857,"tone":"w"},{"row":"seeing","from":80,"to":81.857,"tone":"w"},
{"row":"ecmwf","from":58,"to":63.857,"tone":"a1"},{"row":"ecmwf","from":64,"to":69.857,"tone":"b"},{"row":"ecmwf","from":70,"to":75.857,"tone":"a"},{"row":"ecmwf","from":76,"to":81.857,"tone":"e"}],
"darkTop":[{"from":0,"to":0.857,"tone":"n"},{"from":1,"to":1.857,"tone":"n"},{"from":2,"to":2.857,"tone":"n"},{"from":3,"to":3.857,"tone":"n"},{"from":4,"to":4.857,"tone":"n"},
{"from":5,"to":5.43,"tone":"n"},{"from":5.43,"to":5.64,"tone":"n2"},{"from":5.64,"to":5.857,"tone":"deep"},{"from":6,"to":6.14,"tone":"az0"},{"from":6.14,"to":6.857,"tone":"az"},{"from":7,"to":7.43,"tone":"az"},{"from":7.43,"to":7.57,"tone":"cy"},{"from":7.57,"to":7.857,"tone":"g0"},{"from":8,"to":8.29,"tone":"g1"},{"from":8.29,"to":8.57,"tone":"g2"},{"from":8.57,"to":8.857,"tone":"g3"},{"from":9,"to":9.29,"tone":"g3"},{"from":9.29,"to":9.57,"tone":"g4"},{"from":9.57,"to":9.857,"tone":"g5"},{"from":10,"to":10.43,"tone":"g5"},{"from":10.43,"to":10.857,"tone":"g6"},{"from":11,"to":11.29,"tone":"g7"},{"from":11.29,"to":11.57,"tone":"g8"},{"from":11.57,"to":11.857,"tone":"v"},{"from":12,"to":12.857,"tone":"v"},{"from":13,"to":13.857,"tone":"v"},{"from":14,"to":14.857,"tone":"v"},{"from":15,"to":15.857,"tone":"v"},{"from":16,"to":16.857,"tone":"v"},{"from":17,"to":17.29,"tone":"v"},{"from":17.29,"to":17.57,"tone":"g8"},{"from":17.57,"to":17.857,"tone":"g7"},{"from":18,"to":18.43,"tone":"g6"},{"from":18.43,"to":18.857,"tone":"g5"},{"from":19,"to":19.29,"tone":"g5"},{"from":19.29,"to":19.57,"tone":"g4"},{"from":19.57,"to":19.857,"tone":"g3"},{"from":20,"to":20.29,"tone":"g3"},{"from":20.29,"to":20.57,"tone":"g2"},{"from":20.57,"to":20.857,"tone":"g1"},{"from":21,"to":21.14,"tone":"g0"},{"from":21.14,"to":21.29,"tone":"cy"},{"from":21.29,"to":21.857,"tone":"az"},{"from":22,"to":22.57,"tone":"az"},{"from":22.57,"to":22.71,"tone":"az0"},{"from":22.71,"to":22.857,"tone":"deep"},{"from":23,"to":23.857,"tone":"n"},{"from":24,"to":24.857,"tone":"n"},{"from":25,"to":25.857,"tone":"n"},{"from":26,"to":26.857,"tone":"n"},{"from":27,"to":27.857,"tone":"n"},{"from":28,"to":28.857,"tone":"n"},
{"from":29,"to":29.43,"tone":"n"},{"from":29.43,"to":29.64,"tone":"n2"},{"from":29.64,"to":29.857,"tone":"deep"},{"from":30,"to":30.14,"tone":"az0"},{"from":30.14,"to":30.857,"tone":"az"},{"from":31,"to":31.43,"tone":"az"},{"from":31.43,"to":31.57,"tone":"cy"},{"from":31.57,"to":31.857,"tone":"g0"},{"from":32,"to":32.29,"tone":"g1"},{"from":32.29,"to":32.57,"tone":"g2"},{"from":32.57,"to":32.857,"tone":"g3"},{"from":33,"to":33.29,"tone":"g3"},{"from":33.29,"to":33.57,"tone":"g4"},{"from":33.57,"to":33.857,"tone":"g5"},{"from":34,"to":34.43,"tone":"g5"},{"from":34.43,"to":34.857,"tone":"g6"},{"from":35,"to":35.29,"tone":"g7"},{"from":35.29,"to":35.57,"tone":"g8"},{"from":35.57,"to":35.857,"tone":"v"},{"from":36,"to":36.857,"tone":"v"},{"from":37,"to":37.857,"tone":"v"},{"from":38,"to":38.857,"tone":"v"},{"from":39,"to":39.857,"tone":"v"},{"from":40,"to":40.857,"tone":"v"},{"from":41,"to":41.29,"tone":"v"},{"from":41.29,"to":41.57,"tone":"g8"},{"from":41.57,"to":41.857,"tone":"g7"},{"from":42,"to":42.43,"tone":"g6"},{"from":42.43,"to":42.857,"tone":"g5"},{"from":43,"to":43.29,"tone":"g5"},{"from":43.29,"to":43.57,"tone":"g4"},{"from":43.57,"to":43.857,"tone":"g3"},{"from":44,"to":44.29,"tone":"g3"},{"from":44.29,"to":44.57,"tone":"g2"},{"from":44.57,"to":44.857,"tone":"g1"},{"from":45,"to":45.14,"tone":"g0"},{"from":45.14,"to":45.29,"tone":"cy"},{"from":45.29,"to":45.857,"tone":"az"},{"from":46,"to":46.57,"tone":"az"},{"from":46.57,"to":46.71,"tone":"az0"},{"from":46.71,"to":46.857,"tone":"deep"},{"from":47,"to":47.857,"tone":"n"},{"from":48,"to":48.857,"tone":"n"},{"from":49,"to":49.857,"tone":"n"},{"from":50,"to":50.857,"tone":"n"},{"from":51,"to":51.857,"tone":"n"},{"from":52,"to":52.857,"tone":"n"},
{"from":53,"to":53.43,"tone":"n"},{"from":53.43,"to":53.64,"tone":"n2"},{"from":53.64,"to":53.857,"tone":"deep"},{"from":54,"to":54.14,"tone":"az0"},{"from":54.14,"to":54.857,"tone":"az"},{"from":55,"to":55.43,"tone":"az"},{"from":55.43,"to":55.57,"tone":"az2"},{"from":55.57,"to":55.857,"tone":"g0"},{"from":56,"to":56.29,"tone":"g1"},{"from":56.29,"to":56.57,"tone":"g2"},{"from":56.57,"to":56.857,"tone":"g3"},{"from":57,"to":57.29,"tone":"g3"},{"from":57.29,"to":57.57,"tone":"g4"},{"from":57.57,"to":57.857,"tone":"g5"},{"from":58,"to":58.43,"tone":"g5"},{"from":58.43,"to":58.857,"tone":"g6"},{"from":59,"to":59.29,"tone":"g7"},{"from":59.29,"to":59.57,"tone":"g8"},{"from":59.57,"to":59.857,"tone":"v"},{"from":60,"to":60.857,"tone":"v"},{"from":61,"to":61.857,"tone":"v"},{"from":62,"to":62.857,"tone":"v"},{"from":63,"to":63.857,"tone":"v"},{"from":64,"to":64.857,"tone":"v"},{"from":65,"to":65.29,"tone":"v"},{"from":65.29,"to":65.57,"tone":"g8"},{"from":65.57,"to":65.857,"tone":"g7"},{"from":66,"to":66.43,"tone":"g6"},{"from":66.43,"to":66.857,"tone":"g5"},{"from":67,"to":67.29,"tone":"g5"},{"from":67.29,"to":67.57,"tone":"g4"},{"from":67.57,"to":67.857,"tone":"g3"},{"from":68,"to":68.29,"tone":"g3"},{"from":68.29,"to":68.57,"tone":"g2"},{"from":68.57,"to":68.857,"tone":"g1"},{"from":69,"to":69.14,"tone":"g0"},{"from":69.14,"to":69.29,"tone":"cy"},{"from":69.29,"to":69.857,"tone":"az"},{"from":70,"to":70.57,"tone":"az"},{"from":70.57,"to":70.71,"tone":"az0"},{"from":70.71,"to":70.857,"tone":"deep"},{"from":71,"to":71.857,"tone":"n"},{"from":72,"to":72.857,"tone":"n"},{"from":73,"to":73.857,"tone":"n"},{"from":74,"to":74.857,"tone":"n"},{"from":75,"to":75.857,"tone":"n"},{"from":76,"to":76.857,"tone":"n"},
{"from":77,"to":77.43,"tone":"n"},{"from":77.43,"to":77.64,"tone":"n2"},{"from":77.64,"to":77.857,"tone":"deep"},{"from":78,"to":78.14,"tone":"az0"},{"from":78.14,"to":78.857,"tone":"az"},{"from":79,"to":79.43,"tone":"az"},{"from":79.43,"to":79.57,"tone":"az2"},{"from":79.57,"to":79.857,"tone":"g0"},{"from":80,"to":80.29,"tone":"g1"},{"from":80.29,"to":80.57,"tone":"g2"},{"from":80.57,"to":80.857,"tone":"g3"},{"from":81,"to":81.29,"tone":"g3"},{"from":81.29,"to":81.57,"tone":"g4"},{"from":81.57,"to":81.857,"tone":"g5"}],
"rulesTop":[{"block":1},{"block":25},{"block":49},{"block":73}],
"rulesExt":[{"block":5},{"block":13},{"block":21},{"block":29},{"block":37},{"block":45}],
"ecmwfExt":[{"block":0,"tone":"w"},{"block":1,"tone":"w"},{"block":2,"tone":"w"},{"block":3,"tone":"w"},{"block":4,"tone":"k"},{"block":5,"tone":"k"},{"block":6,"tone":"g"},{"block":7,"tone":"g"},{"block":8,"tone":"i"},{"block":9,"tone":"i"},{"block":10,"tone":"e"},{"block":11,"tone":"e"},{"block":12,"tone":"a"},{"block":13,"tone":"a"},{"block":14,"tone":"a"},{"block":15,"tone":"a"},{"block":16,"tone":"b"},{"block":17,"tone":"b"},{"block":18,"tone":"e"},{"block":19,"tone":"e"},{"block":20,"tone":"c"},{"block":21,"tone":"c"},{"block":22,"tone":"w"},{"block":23,"tone":"w"},{"block":24,"tone":"j"},{"block":25,"tone":"j"},{"block":26,"tone":"k"},{"block":27,"tone":"k"},{"block":28,"tone":"w"},{"block":29,"tone":"w"},{"block":30,"tone":"w"},{"block":31,"tone":"w"},{"block":32,"tone":"w"},{"block":33,"tone":"w"},{"block":34,"tone":"w"},{"block":35,"tone":"w"},{"block":36,"tone":"l"},{"block":37,"tone":"l"},{"block":38,"tone":"b"},{"block":39,"tone":"b"},{"block":40,"tone":"k"},{"block":41,"tone":"k"},{"block":42,"tone":"w"},{"block":43,"tone":"w"},{"block":44,"tone":"g"},{"block":45,"tone":"g"},{"block":46,"tone":"w"},{"block":47,"tone":"w"}],
"bridgesExt":[{"from":0,"to":1.857,"tone":"w"},{"from":2,"to":3.857,"tone":"w"},{"from":4,"to":5.857,"tone":"k"},{"from":6,"to":7.857,"tone":"g"},{"from":8,"to":9.857,"tone":"i"},{"from":10,"to":11.857,"tone":"e"},{"from":12,"to":13.857,"tone":"a"},{"from":14,"to":15.857,"tone":"a"},{"from":16,"to":17.857,"tone":"b"},{"from":18,"to":19.857,"tone":"e"},{"from":20,"to":21.857,"tone":"c"},{"from":22,"to":23.857,"tone":"w"},{"from":24,"to":25.857,"tone":"j"},{"from":26,"to":27.857,"tone":"k"},{"from":28,"to":29.857,"tone":"w"},{"from":30,"to":31.857,"tone":"w"},{"from":32,"to":33.857,"tone":"w"},{"from":34,"to":35.857,"tone":"w"},{"from":36,"to":37.857,"tone":"l"},{"from":38,"to":39.857,"tone":"b"},{"from":40,"to":41.857,"tone":"k"},{"from":42,"to":43.857,"tone":"w"},{"from":44,"to":45.857,"tone":"g"},{"from":46,"to":47.857,"tone":"w"}],
"darkExt":[{"from":0,"to":0.857,"tone":"v"},{"from":1,"to":1.857,"tone":"v"},{"from":2,"to":2.29,"tone":"g6"},{"from":2.29,"to":2.57,"tone":"g3"},{"from":2.57,"to":2.857,"tone":"g1"},{"from":3,"to":3.14,"tone":"g0"},{"from":3.14,"to":3.57,"tone":"az"},{"from":3.57,"to":3.71,"tone":"deep"},{"from":3.71,"to":3.857,"tone":"n"},{"from":4,"to":4.857,"tone":"n"},{"from":5,"to":5.857,"tone":"n"},{"from":6,"to":6.14,"tone":"az0"},{"from":6.14,"to":6.57,"tone":"az"},{"from":6.57,"to":6.857,"tone":"g0"},{"from":7,"to":7.29,"tone":"g2"},{"from":7.29,"to":7.57,"tone":"g5"},{"from":7.57,"to":7.857,"tone":"g7"},
{"from":8,"to":8.857,"tone":"v"},{"from":9,"to":9.857,"tone":"v"},{"from":10,"to":10.29,"tone":"g6"},{"from":10.29,"to":10.57,"tone":"g3"},{"from":10.57,"to":10.857,"tone":"g1"},{"from":11,"to":11.14,"tone":"g0"},{"from":11.14,"to":11.57,"tone":"az"},{"from":11.57,"to":11.71,"tone":"deep"},{"from":11.71,"to":11.857,"tone":"n"},{"from":12,"to":12.857,"tone":"n"},{"from":13,"to":13.857,"tone":"n"},{"from":14,"to":14.14,"tone":"az0"},{"from":14.14,"to":14.57,"tone":"az"},{"from":14.57,"to":14.857,"tone":"g0"},{"from":15,"to":15.29,"tone":"g2"},{"from":15.29,"to":15.57,"tone":"g5"},{"from":15.57,"to":15.857,"tone":"g7"},
{"from":16,"to":16.857,"tone":"v"},{"from":17,"to":17.857,"tone":"v"},{"from":18,"to":18.29,"tone":"g6"},{"from":18.29,"to":18.57,"tone":"g3"},{"from":18.57,"to":18.857,"tone":"g1"},{"from":19,"to":19.14,"tone":"tq"},{"from":19.14,"to":19.57,"tone":"az"},{"from":19.57,"to":19.71,"tone":"deep"},{"from":19.71,"to":19.857,"tone":"n"},{"from":20,"to":20.857,"tone":"n"},{"from":21,"to":21.857,"tone":"n"},{"from":22,"to":22.14,"tone":"az0"},{"from":22.14,"to":22.57,"tone":"az"},{"from":22.57,"to":22.857,"tone":"g0"},{"from":23,"to":23.29,"tone":"g2"},{"from":23.29,"to":23.57,"tone":"g5"},{"from":23.57,"to":23.857,"tone":"g7"},
{"from":24,"to":24.857,"tone":"v"},{"from":25,"to":25.857,"tone":"v"},{"from":26,"to":26.29,"tone":"g6"},{"from":26.29,"to":26.57,"tone":"g3"},{"from":26.57,"to":26.857,"tone":"g1"},{"from":27,"to":27.14,"tone":"tq"},{"from":27.14,"to":27.57,"tone":"az"},{"from":27.57,"to":27.71,"tone":"deep"},{"from":27.71,"to":27.857,"tone":"n"},{"from":28,"to":28.857,"tone":"n"},{"from":29,"to":29.857,"tone":"n"},{"from":30,"to":30.14,"tone":"az0"},{"from":30.14,"to":30.57,"tone":"az"},{"from":30.57,"to":30.857,"tone":"g0"},{"from":31,"to":31.29,"tone":"g2"},{"from":31.29,"to":31.57,"tone":"g5"},{"from":31.57,"to":31.857,"tone":"g7"},
{"from":32,"to":32.857,"tone":"v"},{"from":33,"to":33.857,"tone":"v"},{"from":34,"to":34.29,"tone":"g6"},{"from":34.29,"to":34.57,"tone":"g3"},{"from":34.57,"to":34.857,"tone":"g1"},{"from":35,"to":35.14,"tone":"cy"},{"from":35.14,"to":35.57,"tone":"az"},{"from":35.57,"to":35.71,"tone":"deep"},{"from":35.71,"to":35.857,"tone":"n"},{"from":36,"to":36.857,"tone":"n"},{"from":37,"to":37.857,"tone":"n"},{"from":38,"to":38.14,"tone":"az0"},{"from":38.14,"to":38.57,"tone":"az"},{"from":38.57,"to":38.857,"tone":"g0"},{"from":39,"to":39.29,"tone":"g2"},{"from":39.29,"to":39.57,"tone":"g5"},{"from":39.57,"to":39.857,"tone":"g7"},
{"from":40,"to":40.857,"tone":"v"},{"from":41,"to":41.857,"tone":"v"},{"from":42,"to":42.29,"tone":"g6"},{"from":42.29,"to":42.57,"tone":"g3"},{"from":42.57,"to":42.857,"tone":"g1"},{"from":43,"to":43.14,"tone":"cy"},{"from":43.14,"to":43.57,"tone":"az"},{"from":43.57,"to":43.71,"tone":"deep"},{"from":43.71,"to":43.857,"tone":"n"},{"from":44,"to":44.857,"tone":"n"},{"from":45,"to":45.857,"tone":"n"},{"from":46,"to":46.14,"tone":"az0"},{"from":46.14,"to":46.57,"tone":"az"},{"from":46.57,"to":46.857,"tone":"g0"},{"from":47,"to":47.29,"tone":"g2"},{"from":47.29,"to":47.57,"tone":"g5"},{"from":47.57,"to":47.857,"tone":"g7"}],
"logo":[{"part":"panel","from":0,"to":166,"tone":"v"},{"part":"left bar","from":0,"to":7,"tone":"flag"},{"part":"right bar","from":20,"to":27,"tone":"flag"}],
"leaf":[{"part":"leaf","at":13.5,"tone":"flag"}],
"logoText":[{"column":"en","line":"upper","text":"Environment","tone":"ink"},{"column":"en","line":"lower","text":"Canada","tone":"ink"},{"column":"fr","line":"upper","text":"Environnement","tone":"ink"},{"column":"fr","line":"lower","text":"Canada","tone":"ink"}]
},
"layer":[
{"data":{"name":"title"},"mark":{"type":"text","align":"left","font":"DejaVu Sans Mono","fontWeight":"bold","fontSize":20},"encoding":{"x":{"field":"text","type":"nominal","scale":{"type":"point","domain":["Scarborough","Clear Sky Chart"],"range":[480,624],"padding":0}},"y":{"datum":"title","type":"nominal","scale":{"type":"point","domain":["title"],"range":[12,12]}},"text":{"field":"text"}}},
{"encoding":{"x":{"datum":"margin","type":"nominal","scale":{"type":"point","domain":["margin"],"range":[2,2]}},"y":{"field":"line","type":"nominal","scale":{"type":"point","domain":["day","tens","ones"],"range":[35,64],"padding":0}},"text":{"field":"text"}},
"layer":[{"data":{"name":"headTop"},"mark":{"type":"text","align":"left"}},{"data":{"name":"gmt"},"mark":{"type":"text","align":"left","fontSize":8,"dy":-2},"encoding":{"y":{"datum":"ones","type":"nominal"}}}]},
{"data":{"name":"labelsTop"},"mark":{"type":"text","align":"left","dy":-2},"encoding":{"x":{"datum":"margin","type":"nominal","scale":{"type":"point","domain":["margin"],"range":[14,14]}},"y":{"field":"row","type":"nominal","scale":{"type":"band","domain":["cloud","ecmwf","transparency","seeing","darkness","gap1","gap2","smoke","wind","humidity","temperature"],"range":[77,249],"paddingInner":0.25,"paddingOuter":0}},"text":{"field":"text"}}},
{"layer":[
{"data":{"name":"digitsTop"},"mark":{"type":"text"},"encoding":{"x":{"field":"block","type":"ordinal","scale":{"type":"band","range":[134,1280],"paddingInner":0.142857,"paddingOuter":0}},"y":{"datum":"ones","type":"nominal","scale":{"type":"point","domain":["day","tens","ones"],"range":[35,64],"padding":0}},"text":{"field":"ones"}}},
{"data":{"name":"digitsTop"},"mark":{"type":"text"},"encoding":{"x":{"field":"block","type":"ordinal"},"y":{"datum":"tens","type":"nominal"},"text":{"field":"tens"}}},
{"data":{"name":"daysTop"},"mark":{"type":"text","align":"left"},"encoding":{"x":{"field":"block","type":"ordinal","bandPosition":0},"y":{"datum":"day","type":"nominal"},"text":{"field":"text"}}},
{"data":{"name":"sundayTop"},"mark":{"type":"text","align":"left","dx":6},"encoding":{"x":{"field":"block","type":"ordinal","bandPosition":0},"y":{"datum":"day","type":"nominal"},"text":{"field":"text"}}}]},
{"data":{"name":"blocksTop"},"mark":{"type":"rect"},"encoding":{"x":{"field":"block","type":"ordinal","scale":{"type":"band","range":[134,1280],"paddingInner":0.142857,"paddingOuter":0}},"y":{"field":"row","type":"nominal","scale":{"type":"band","domain":["cloud","ecmwf","transparency","seeing","darkness","gap1","gap2","smoke","wind","humidity","temperature"],"range":[77,249],"paddingInner":0.25,"paddingOuter":0}}}},
{"data":{"name":"bridgesTop"},"mark":{"type":"rect"},"encoding":{"x":{"field":"from","type":"quantitative","scale":{"domain":[0,81.857],"range":[134,1280],"nice":false,"zero":false}},"x2":{"field":"to"},"y":{"field":"row","type":"nominal","scale":{"type":"band","domain":["cloud","ecmwf","transparency","seeing","darkness","gap1","gap2","smoke","wind","humidity","temperature"],"range":[79,247],"paddingInner":0.5,"paddingOuter":0}}}},
{"data":{"name":"darkTop"},"mark":{"type":"rect"},"encoding":{"x":{"field":"from","type":"quantitative","scale":{"domain":[0,81.857],"range":[134,1280],"nice":false,"zero":false}},"x2":{"field":"to"},"y":{"datum":"darkness","type":"nominal","scale":{"type":"band","domain":["darkness"],"range":[141,153],"paddingInner":0,"paddingOuter":0}}}},
{"data":{"values":[{"panel":"Sky","label":"— — Sky — —","tone":"sky","ink":"ty"}]},"encoding":{"x":{"datum":"bar","type":"nominal","scale":{"type":"band","domain":["bar"],"range":[0,12],"paddingInner":0,"paddingOuter":0}},"y":{"field":"panel","type":"nominal","scale":{"type":"band","domain":["Sky"],"range":[77,153],"paddingInner":0,"paddingOuter":0}}},
"layer":[{"mark":{"type":"rect"}},{"mark":{"type":"text","angle":270,"fontSize":11},"encoding":{"text":{"field":"label"},"color":{"field":"ink","type":"nominal"}}}]},
{"data":{"values":[{"panel":"Ground","label":"— Ground —","tone":"ground","ink":"lw"}]},"encoding":{"x":{"datum":"bar","type":"nominal","scale":{"type":"band","domain":["bar"],"range":[0,12],"paddingInner":0,"paddingOuter":0}},"y":{"field":"panel","type":"nominal","scale":{"type":"band","domain":["Ground"],"range":[189,249],"paddingInner":0,"paddingOuter":0}}},
"layer":[{"mark":{"type":"rect"}},{"mark":{"type":"text","angle":270,"fontSize":10},"encoding":{"text":{"field":"label"},"color":{"field":"ink","type":"nominal"}}}]},
{"data":{"name":"rulesTop"},"mark":{"type":"rule","strokeWidth":2,"color":"#ff0000"},"encoding":{"x":{"field":"block","type":"quantitative","scale":{"domain":[0,81.857],"range":[134,1280],"nice":false,"zero":false}},"y":{"datum":"top","type":"nominal","scale":{"type":"point","domain":["top","bottom"],"range":[77,249],"padding":0}},"y2":{"datum":"bottom"},"color":{"value":"#ff0000"}}},
{"data":{"values":[{"text":"EXTENDED Forecast. Each block is 3 hours. (A sponsored feature)","tone":"red"}]},"mark":{"type":"text","align":"left"},"encoding":{"x":{"datum":"margin","type":"nominal","scale":{"type":"point","domain":["margin"],"range":[0,0]}},"y":{"datum":"line","type":"nominal","scale":{"type":"point","domain":["line"],"range":[275,275]}},"text":{"field":"text"}}},
{"encoding":{"x":{"datum":"margin","type":"nominal","scale":{"type":"point","domain":["margin"],"range":[2,2]}},"y":{"field":"line","type":"nominal","scale":{"type":"point","domain":["day","tens","ones"],"range":[295,325],"padding":0}},"text":{"field":"text"}},
"layer":[{"data":{"name":"headExt"},"mark":{"type":"text","align":"left"}},{"data":{"name":"gmt"},"mark":{"type":"text","align":"left","fontSize":8,"dy":-2},"encoding":{"y":{"datum":"ones","type":"nominal"}}}]},
{"data":{"name":"labelsExt"},"mark":{"type":"text","align":"left","dy":-2},"encoding":{"x":{"datum":"margin","type":"nominal","scale":{"type":"point","domain":["margin"],"range":[14,14]}},"y":{"field":"row","type":"nominal","scale":{"type":"band","domain":["cloud","ecmwf","darkness"],"range":[337,381],"paddingInner":0.25,"paddingOuter":0}},"text":{"field":"text"}}},
{"layer":[
{"data":{"name":"digitsExt"},"mark":{"type":"text"},"encoding":{"x":{"field":"block","type":"ordinal","scale":{"type":"band","range":[134,804],"paddingInner":0.142857,"paddingOuter":0}},"y":{"datum":"ones","type":"nominal","scale":{"type":"point","domain":["day","tens","ones"],"range":[295,325],"padding":0}},"text":{"field":"ones"}}},
{"data":{"name":"digitsExt"},"mark":{"type":"text"},"encoding":{"x":{"field":"block","type":"ordinal"},"y":{"datum":"tens","type":"nominal"},"text":{"field":"tens"}}},
{"data":{"name":"daysExt"},"mark":{"type":"text","align":"left","dx":-5},"encoding":{"x":{"field":"block","type":"ordinal","bandPosition":0},"y":{"datum":"day","type":"nominal"},"text":{"field":"text"}}},
{"data":{"name":"daysExt2"},"mark":{"type":"text","align":"left"},"encoding":{"x":{"field":"block","type":"ordinal","bandPosition":0},"y":{"datum":"day","type":"nominal"},"text":{"field":"text"}}}]},
{"data":{"name":"ecmwfExt"},"mark":{"type":"rect"},"encoding":{"x":{"field":"block","type":"ordinal","scale":{"type":"band","range":[134,804],"paddingInner":0.142857,"paddingOuter":0}},"y":{"datum":"ecmwf","type":"nominal","scale":{"type":"band","domain":["ecmwf"],"range":[353,365],"paddingInner":0,"paddingOuter":0}}}},
{"data":{"name":"bridgesExt"},"mark":{"type":"rect"},"encoding":{"x":{"field":"from","type":"quantitative","scale":{"domain":[0,48],"range":[134,806],"nice":false,"zero":false}},"x2":{"field":"to"},"y":{"datum":"ecmwf","type":"nominal","scale":{"type":"band","domain":["ecmwf"],"range":[355,363],"paddingInner":0,"paddingOuter":0}}}},
{"data":{"name":"darkExt"},"mark":{"type":"rect"},"encoding":{"x":{"field":"from","type":"quantitative","scale":{"domain":[0,48],"range":[134,806],"nice":false,"zero":false}},"x2":{"field":"to"},"y":{"datum":"darkness","type":"nominal","scale":{"type":"band","domain":["darkness"],"range":[369,381],"paddingInner":0,"paddingOuter":0}}}},
{"data":{"values":[{"panel":"Sky","label":"— Sky —","tone":"sky","ink":"ty"}]},"encoding":{"x":{"datum":"bar","type":"nominal","scale":{"type":"band","domain":["bar"],"range":[0,12],"paddingInner":0,"paddingOuter":0}},"y":{"field":"panel","type":"nominal","scale":{"type":"band","domain":["Sky"],"range":[337,382],"paddingInner":0,"paddingOuter":0}}},
"layer":[{"mark":{"type":"rect"}},{"mark":{"type":"text","angle":270,"fontSize":11},"encoding":{"text":{"field":"label"},"color":{"field":"ink","type":"nominal"}}}]},
{"data":{"name":"rulesExt"},"mark":{"type":"rule","strokeWidth":2},"encoding":{"x":{"field":"block","type":"quantitative","scale":{"domain":[0,48],"range":[134,806],"nice":false,"zero":false}},"y":{"datum":"top","type":"nominal","scale":{"type":"point","domain":["top","bottom"],"range":[337,381],"padding":0}},"y2":{"datum":"bottom"},"color":{"value":"#ff0000"}}},
{"data":{"values":[{"text":"© 2026 Attilla Danko \u00a0forecast: A.Rahill \u00a0data:","tone":"lw"}]},"mark":{"type":"text","align":"left"},"encoding":{"x":{"datum":"margin","type":"nominal","scale":{"type":"point","domain":["margin"],"range":[328,328]}},"y":{"datum":"line","type":"nominal","scale":{"type":"point","domain":["line"],"range":[415,415]}},"text":{"field":"text"}}},
{"layer":[
{"data":{"name":"logo"},"mark":{"type":"rect"},"encoding":{"x":{"field":"from","type":"quantitative","scale":{"domain":[0,166],"range":[788,954],"nice":false,"zero":false}},"x2":{"field":"to"},"y":{"datum":"logo","type":"nominal","scale":{"type":"band","domain":["logo"],"range":[409,424],"paddingInner":0,"paddingOuter":0}}}},
{"data":{"name":"leaf"},"mark":{"type":"point","filled":true,"opacity":1,"size":60,"shape":"M0,-1 L.3,-.4 L.8,-.6 L.6,0 L1,.2 L.2,.5 L.1,1 L-.1,1 L-.2,.5 L-1,.2 L-.6,0 L-.8,-.6 L-.3,-.4 Z"},"encoding":{"x":{"field":"at","type":"quantitative"},"y":{"datum":"logo","type":"nominal"}}}]},
{"data":{"name":"logoText"},"mark":{"type":"text","align":"left","fontSize":8,"font":"Liberation Sans"},"encoding":{"x":{"field":"column","type":"nominal","scale":{"type":"point","domain":["en","fr"],"range":[829,893],"padding":0}},"y":{"field":"line","type":"nominal","scale":{"type":"point","domain":["upper","lower"],"range":[412,419],"padding":0}},"text":{"field":"text"}}}
]}
